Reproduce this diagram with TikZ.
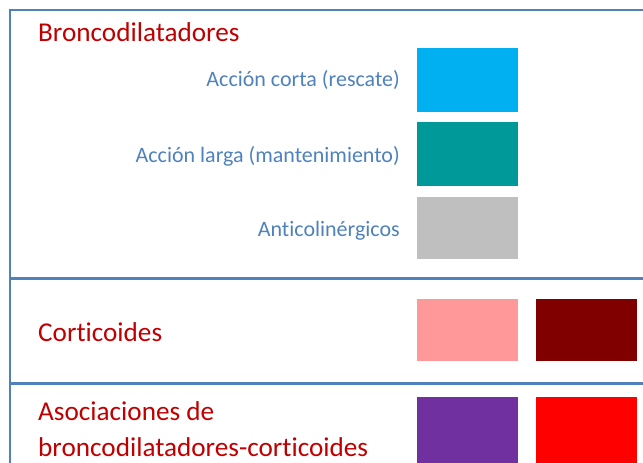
\documentclass[tikz,border=0pt]{standalone}
\usepackage{fontspec}
\setmainfont{Carlito}[Ligatures=NoCommon]
\definecolor{rule}{HTML}{4F81BD}
\definecolor{headred}{HTML}{C00000}
\definecolor{subblue}{HTML}{4F81BD}
\definecolor{cshort}{HTML}{00B0F0}
\definecolor{clong}{HTML}{009999}
\definecolor{canti}{HTML}{BFBFBF}
\definecolor{ccortA}{HTML}{FF9999}
\definecolor{ccortB}{HTML}{800000}
\definecolor{cassA}{HTML}{7030A0}
\definecolor{cassB}{HTML}{FF0000}
\tikzset{
  head/.style={text=headred, font=\fontsize{27.2}{32}\selectfont, inner sep=0pt, anchor=base west, align=left},
  sub/.style={text=subblue, font=\fontsize{22}{26}\selectfont, inner sep=0pt, anchor=base east},
  gridline/.style={draw=rule, line width=2.2pt}
}
\begin{document}
\begin{tikzpicture}[x=1pt,y=-1pt]
\useasboundingbox (0,0) rectangle (643,463);
\clip (0,0) rectangle (643,463);
% grid lines
\coordinate (tl) at (10,10);
\coordinate (tr) at (645,10);
\coordinate (bl) at (10,465);
\coordinate (m1l) at (10,278.5);
\coordinate (m1r) at (645,278.5);
\coordinate (m2l) at (10,383.5);
\coordinate (m2r) at (645,383.5);
\draw[gridline] (bl) -- (tl) -- (tr);
\draw[gridline] (m1l) -- (m1r);
\draw[gridline] (m2l) -- (m2r);
% headings
\node[head] (h1) at (38,41) {Broncodilatadores};
\node[head] (h2) at (38,341) {Corticoides};
\node[head] (h3a) at (38,420) {Asociaciones de};
\node[head] (h3b) at (38,456) {broncodilatadores-corticoides};
% sub labels
\node[sub] (s1) at (400,86) {Acción corta (rescate)};
\node[sub] (s2) at (400,162.5) {Acción larga (mantenimiento)};
\node[sub] (s3) at (400,236.5) {Anticolinérgicos};
% swatches
\fill[cshort] (417,48) rectangle (518,112);
\fill[clong] (417,122) rectangle (518,186);
\fill[canti] (417,197) rectangle (518,259);
\fill[ccortA] (417,299) rectangle (518,361);
\fill[ccortB] (536,299) rectangle (637,361);
\fill[cassA] (417,397) rectangle (518,465);
\fill[cassB] (536,397) rectangle (637,465);
\end{tikzpicture}
\end{document}
